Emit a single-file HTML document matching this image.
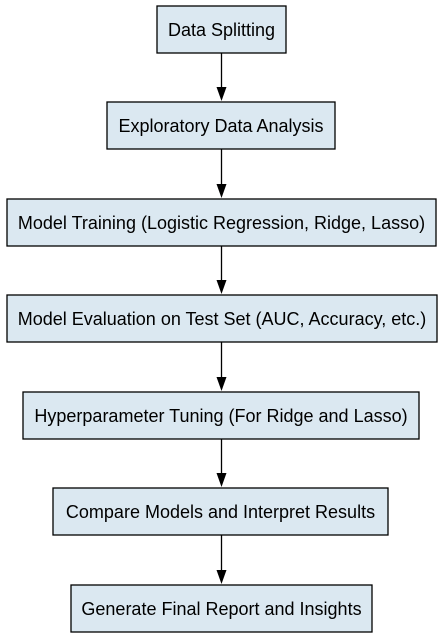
<!DOCTYPE html>
<html><head><meta charset="utf-8"><style>body{margin:0;background:#fff}</style></head><body>
<svg width="443" height="635" xmlns="http://www.w3.org/2000/svg" font-family="Liberation Sans, Arial, sans-serif" font-size="18">
<g fill="#dbe8f1" stroke="#000" stroke-width="1.3">
<rect x="157" y="6" width="129" height="47"/>
<rect x="107" y="102" width="228" height="47"/>
<rect x="7" y="199" width="429" height="47"/>
<rect x="7" y="295" width="430" height="47"/>
<rect x="23" y="392" width="396" height="47"/>
<rect x="53" y="488" width="335" height="47"/>
<rect x="71" y="585" width="301" height="47"/>
</g>
<g stroke="#000" stroke-width="1.3">
<line x1="221.5" y1="53" x2="221.5" y2="88"/>
<line x1="221.5" y1="149" x2="221.5" y2="185"/>
<line x1="221.5" y1="246" x2="221.5" y2="281"/>
<line x1="221.5" y1="342" x2="221.5" y2="378"/>
<line x1="221.5" y1="439" x2="221.5" y2="474"/>
<line x1="221.5" y1="535" x2="221.5" y2="571"/>
</g>
<g fill="#000">
<path d="M216.5,87 L226.5,87 L221.5,101 Z"/>
<path d="M216.5,184 L226.5,184 L221.5,198 Z"/>
<path d="M216.5,280 L226.5,280 L221.5,294 Z"/>
<path d="M216.5,377 L226.5,377 L221.5,391 Z"/>
<path d="M216.5,473 L226.5,473 L221.5,487 Z"/>
<path d="M216.5,570 L226.5,570 L221.5,584 Z"/>
</g>
<g text-anchor="middle" fill="#000">
<text x="221.5" y="36">Data Splitting</text>
<text x="221" y="132">Exploratory Data Analysis</text>
<text x="221.5" y="229">Model Training (Logistic Regression, Ridge, Lasso)</text>
<text x="222" y="325">Model Evaluation on Test Set (AUC, Accuracy, etc.)</text>
<text x="221" y="422">Hyperparameter Tuning (For Ridge and Lasso)</text>
<text x="220.5" y="518">Compare Models and Interpret Results</text>
<text x="221.5" y="615">Generate Final Report and Insights</text>
</g>
</svg>
</body></html>
